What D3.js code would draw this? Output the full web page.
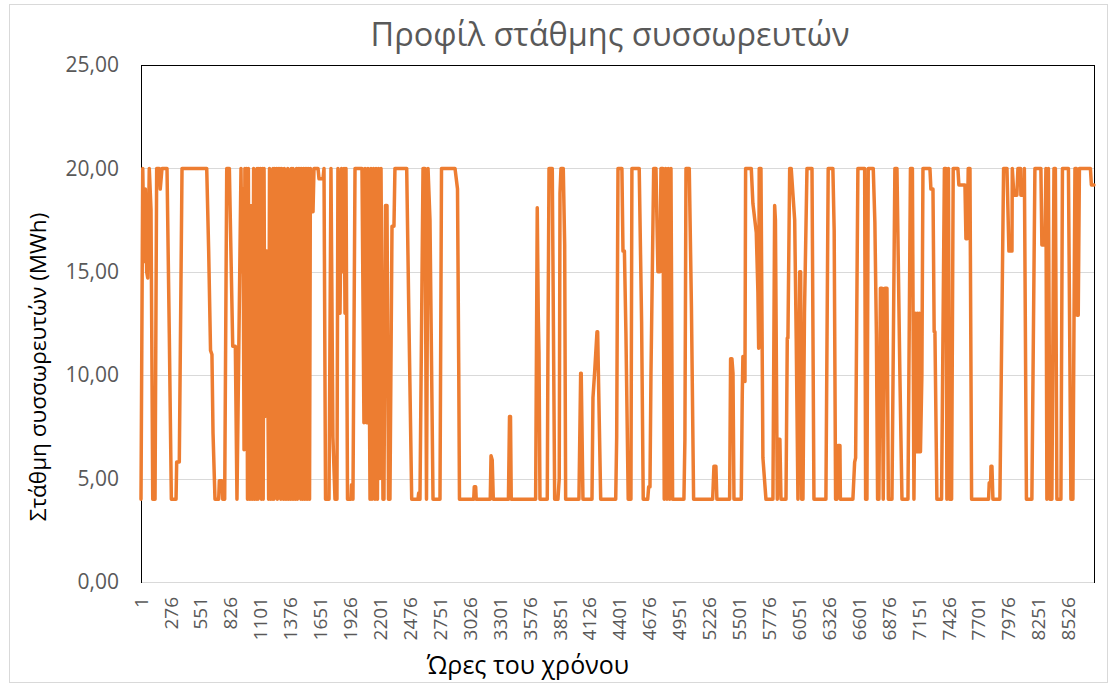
<!DOCTYPE html>
<html>
<head>
<meta charset="utf-8">
<script src="https://cdn.jsdelivr.net/npm/d3@7"></script>
<style>
  body { margin: 0; background: #fff; }
  text { font-family: "Open Sans", "Noto Sans", sans-serif; }
</style>
</head>
<body>
<svg id="chart" width="1110" height="686"></svg>
<script>
// Battery state of charge over the year: [hour, MWh] break points, one array per quarter
const levelsQ1 = [
  [1,4],[17,20],[31,15.5],[41,19],[53,15],[63,14.7],[77,20],[93,18],[109,4],[130,4],[145,20],[169,20],[178,19],[194,20],
  [240,20],[261,12],[280,4],[323,4],[329,5.8],[353,5.8],[378,20],[605,20],[623,16],[640,11.2],[653,11],[663,7.2],[681,4],
  [715,4],[721,4.9],[745,4.9],[752,4],[770,4],[789,20],[813,20],[844,11.4],[868,11.4],[883,4],
  [920,20],[930,15],[938,19],[948,6.4],[956,20],[963,15.3],[970,20],[980,4],[988,20],[996,4],[1004,18.2],[1012,4],
  [1020,18.2],[1028,4],[1036,20],[1044,4],[1052,18.2],[1060,4],[1068,20],[1076,4],[1084,20],[1092,6],[1100,20],[1108,4],
  [1116,20],[1124,4],[1132,20],[1140,8],[1150,16],[1158,16],[1174,4],[1182,20],[1190,4],[1198,16],[1206,4],[1214,20],
  [1222,4],[1230,20],[1238,6],[1246,20],[1254,4],[1262,20],[1270,9.7],[1278,20],[1286,4],[1294,20],[1302,13.5],[1310,4],
  [1318,20],[1326,4],[1334,13.5],[1342,4],[1350,20],[1358,4],[1366,17.9],[1374,4],[1382,20],[1390,4],[1398,20],[1406,4],
  [1414,17.9],[1422,4],[1430,20],[1438,4],[1446,20],[1454,13.5],[1462,20],[1470,4],[1478,20],[1486,4],[1494,20],[1502,4],
  [1510,20],[1518,4],[1526,20],[1534,4],[1542,20],[1550,4],[1558,20],[1563,17.9],[1582,17.9],[1591,20],[1628,20],
  [1637,19.5],[1674,19.5],[1683,20],[1697,4],
  [1729,4],[1747,20],[1765,7],[1784,4],[1802,4],[1811,20],[1830,13],[1844,20],[1857,15],[1867,20],[1876,13],[1885,20],
  [1899,4],[1931,4],[1936,4.7],[1945,4.7],[1949,4],[1968,20],[2032,20],[2050,7.7],[2060,20],[2075,7.7],[2087,20],[2106,4],
  [2115,20],[2124,4],[2138,20],[2151,4]
];
const levelsQ2 = [
  [2161,20],[2174,4],[2184,20],[2197,5],[2207,20],[2225,4],[2234,4],[2248,18.2],[2262,18.2],[2276,4],[2289,4],[2308,17.2],
  [2326,17.2],[2335,20],[2443,20],[2464,12.5],[2489,4],[2547,4],[2553,4.3],[2565,4],[2593,20],[2611,20],[2625,4],[2639,20],
  [2657,17.5],[2685,4],[2749,4],[2763,20],[2887,20],[2910,19],[2921,10.6],[2928,4],[3059,4],[3064,4.6],[3077,4.6],[3082,4],
  [3211,4],[3218,6.1],[3229,5.9],[3239,4],[3378,4],[3388,8],[3397,8],[3404,4],[3628,4],[3643,18.1],[3652,13],[3659,11.1],
  [3668,4],[3735,4],[3741,11],[3751,20],[3781,20],[3792,12],[3803,4],[3833,4],[3845,5],[3852,18.8],[3861,20],[3882,20],
  [3895,16.3],[3904,4],[4026,4],[4042,10.1],[4047,10.1],[4063,4],[4146,4],[4155,8.9],[4171,10.2],[4192,12.1],[4198,12.1],
  [4226,4],[4364,4]
];
const levelsQ3 = [
  [4373,7],[4385,20],[4403,20],[4421,20],[4431,16],[4444,16],[4458,12],[4479,4],[4504,4],[4513,20],[4580,20],[4602,12.6],
  [4617,4],[4658,4],[4667,4.6],[4679,4.6],[4688,10],[4713,20],[4734,20],[4752,15],[4771,15],[4780,20],[4798,20],[4810,4],
  [4823,20],[4835,4],[4847,20],[4860,4],[4872,20],[4887,4],[4991,4],[5000,6.9],[5010,20],[5040,20],[5060,13.3],[5080,4],
  [5255,4],[5267,5.6],[5285,5.6],[5294,4],[5411,4],[5420,10.8],[5432,10.8],[5442,10.1],[5451,4],[5518,4],[5527,9],
  [5533,10.9],[5552,9.7],[5558,20],[5610,20],[5625,18.3],[5656,16.9],[5671,14],[5678,11.3],[5683,20],[5699,20],[5717,6],
  [5745,4],[5809,4],[5825,18.2],[5832,17.5],[5849,4],[5864,6.9],[5873,6.9],[5883,4],[5929,4],[5941,11.8],[5947,11.8],
  [5963,20],[5977,20],[6009,17.5],[6023,11.8],[6039,4],[6055,15],[6064,15],[6073,4],[6085,4],[6099,13],[6122,20],
  [6168,20],[6186,4],[6296,4],[6317,20],[6360,20],[6372,17],[6385,4],[6397,4],[6406,6.6],[6425,6.6],[6429,4],[6544,4]
];
const levelsQ4 = [
  [6560,5.8],[6569,6],[6590,20],[6652,20],[6661,4],[6673,4],[6685,20],[6731,20],[6746,17.4],[6760,12],[6771,4],[6783,4],
  [6797,14.2],[6811,14.2],[6823,4],[6838,14.2],[6857,14.2],[6870,4],[6903,4],[6930,20],[6949,20],[6976,10],[6995,4],
  [7050,4],[7073,20],[7091,20],[7105,4],[7119,13],[7128,6.3],[7137,13],[7146,6.3],[7155,13],[7165,6.3],[7178,10],[7188,20],
  [7252,20],[7261,19],[7280,19],[7291,12.1],[7298,12.1],[7316,4],[7359,4],[7385,20],[7399,20],[7408,4],[7422,20],[7433,4],
  [7451,4],[7466,20],[7509,20],[7518,19.2],[7574,19.2],[7583,16.6],[7595,16.6],[7604,20],[7620,20],[7635,4],[7791,4],
  [7797,4.8],[7810,4.8],[7813,5.6],[7822,5.6],[7831,4],[7895,4],[7929,20],[7960,20],[7978,16],[8006,16],[8009,20],
  [8024,18.7],[8051,18.7],[8061,20],[8085,20],[8088,18.7],[8116,18.7],[8120,20],[8139,4],[8189,4],[8217,20],[8272,20],
  [8281,16.3],[8309,16.3],[8318,20],[8327,4],[8341,20],[8355,4],[8373,4],[8392,20],[8405,20],[8419,4],[8456,4],[8470,20],
  [8525,20],[8548,4],[8566,4],[8585,20],[8598,20],[8606,12.9],[8615,12.9],[8626,20],[8727,20],[8736,19.2],[8760,19.2]
];

const xTickHours = [1,276,551,826,1101,1376,1651,1926,2201,2476,2751,3026,3301,3576,3851,4126,
                    4401,4676,4951,5226,5501,5776,6051,6326,6601,6876,7151,7426,7701,7976,8251,8526];
const yTickValues = [0,5,10,15,20,25];

const chartTitle = "Προφίλ στάθμης συσσωρευτών";
const yTitle = "Στάθμη συσσωρευτών (MWh)";
const xTitle = "Ώρες του χρόνου";

const series = levelsQ1.concat(levelsQ2, levelsQ3, levelsQ4);

const W = 1110, H = 686;
const plot = { left: 141, right: 1094, top: 65, bottom: 582 };

const svg = d3.select("#chart");
svg.append("rect").attr("width", W).attr("height", H).attr("fill", "#fff");
// outer chart border
svg.append("rect")
  .attr("x", 9.5).attr("y", 4.5).attr("width", 1098).attr("height", 678)
  .attr("fill", "none").attr("stroke", "#d9d9d9").attr("stroke-width", 1);

const x = d3.scaleLinear().domain([1, 8760]).range([plot.left, plot.right]);
const y = d3.scaleLinear().domain([0, 25]).range([plot.bottom, plot.top]);

const grLocale = d3.formatLocale({ decimal: ",", thousands: ".", grouping: [3], currency: ["", "€"] });
const fmt = grLocale.format(".2f");

// horizontal gridlines
svg.append("g")
  .selectAll("line")
  .data(yTickValues.filter(v => v > 0 && v < 25))
  .join("line")
  .attr("x1", plot.left).attr("x2", plot.right)
  .attr("y1", d => Math.round(y(d)) + 0.5).attr("y2", d => Math.round(y(d)) + 0.5)
  .attr("stroke", "#d9d9d9").attr("stroke-width", 1);

// y axis labels
const yAxis = svg.append("g")
  .attr("transform", `translate(${plot.left},0)`)
  .call(d3.axisLeft(y).tickValues(yTickValues).tickFormat(fmt).tickSize(0).tickPadding(22));
yAxis.select(".domain").remove();
yAxis.selectAll("text")
  .attr("fill", "#595959").attr("font-size", 21)
  .attr("font-family", "'Open Sans', sans-serif");

// x axis labels (rotated)
const xAxis = svg.append("g")
  .attr("transform", `translate(0,${plot.bottom})`)
  .call(d3.axisBottom(x).tickValues(xTickHours).tickFormat(d3.format("d")).tickSize(0).tickPadding(0));
xAxis.select(".domain").remove();
xAxis.selectAll(".tick").attr("transform", null);
xAxis.selectAll("text")
  .attr("fill", "#595959").attr("font-size", 19)
  .attr("font-family", "'Open Sans', sans-serif")
  .attr("text-anchor", "end")
  .attr("y", 0).attr("dy", "0.35em")
  .attr("x", -15)
  .attr("transform", d => `translate(${x(d)},0) rotate(-90)`);

// plot area frame and the category axis line
svg.append("rect")
  .attr("x", plot.left + 0.5).attr("y", plot.top + 0.5)
  .attr("width", plot.right - plot.left).attr("height", plot.bottom - plot.top)
  .attr("fill", "none").attr("stroke", "#000").attr("stroke-width", 1);
svg.append("line")
  .attr("x1", plot.left + 1).attr("x2", plot.right)
  .attr("y1", plot.bottom + 0.5).attr("y2", plot.bottom + 0.5)
  .attr("stroke", "#d9d9d9").attr("stroke-width", 1);

// battery level line
const line = d3.line().x(d => x(d[0])).y(d => y(d[1]));
svg.append("path")
  .datum(series)
  .attr("d", line)
  .attr("fill", "none")
  .attr("stroke", "#ed7d31")
  .attr("stroke-width", 3.5)
  .attr("stroke-linejoin", "round")
  .attr("stroke-linecap", "round");

// titles
svg.append("text")
  .attr("x", 610).attr("y", 46)
  .attr("text-anchor", "middle")
  .attr("font-size", 32.5).attr("fill", "#595959")
  .text(chartTitle);

svg.append("text")
  .attr("transform", "translate(46,367) rotate(-90)")
  .attr("text-anchor", "middle")
  .attr("font-size", 22.5).attr("fill", "#000")
  .text(yTitle);

svg.append("text")
  .attr("x", 528).attr("y", 674)
  .attr("text-anchor", "middle")
  .attr("font-size", 25).attr("fill", "#000")
  .text(xTitle);
</script>
</body>
</html>
